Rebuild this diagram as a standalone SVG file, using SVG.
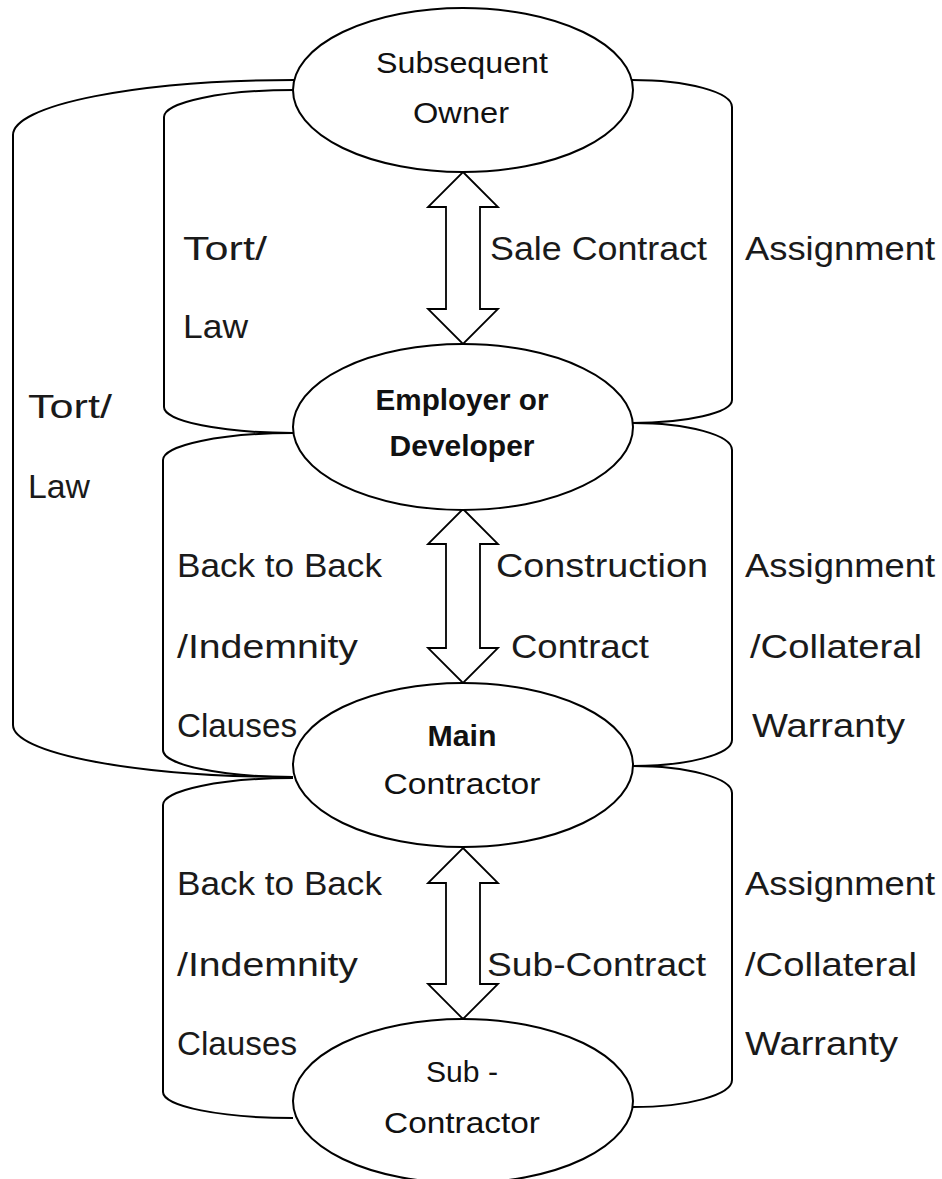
<svg xmlns="http://www.w3.org/2000/svg" width="942" height="1179" viewBox="0 0 942 1179">
<style>
.ln{fill:none;stroke:#000;stroke-width:2}
.el{fill:#fff;stroke:#000;stroke-width:2}
.ar{fill:#fff;stroke:#000;stroke-width:1.8;stroke-linejoin:miter}
.lb{font-family:"Liberation Sans",Arial,sans-serif;font-size:34px;fill:#1a1a1a}
.nt{font-family:"Liberation Sans",Arial,sans-serif;font-size:29px;fill:#111;text-anchor:middle}
.b{font-weight:bold}
</style>
<rect width="942" height="1179" fill="#fff"/>
<g id="connectors">
<path class="ln" d="M294,80 A281,55 0 0 0 13,135 V725 A280,52 0 0 0 293,777"/>
<path class="ln" d="M294,90 A130,27 0 0 0 164,117 V407 A130,26 0 0 0 293,433"/>
<path class="ln" d="M632,80 A100,27 0 0 1 732,107 V400 A100,23 0 0 1 632,423"/>
<path class="ln" d="M293,433 A130,27 0 0 0 163,460 V750 A130,27 0 0 0 293,777"/>
<path class="ln" d="M633,423 A99,27 0 0 1 732,450 V740 A99,26 0 0 1 633,766"/>
<path class="ln" d="M293,778 A130,27 0 0 0 163,805 V1092 A130,26 0 0 0 293,1118"/>
<path class="ln" d="M633,766 A99,27 0 0 1 732,793 V1080 A99,27 0 0 1 633,1107"/>
<polygon class="ar" points="463,172 498,207 480,207 480,309 498,309 463,344 428,309 446,309 446,207 428,207"/>
<polygon class="ar" points="463,509 498,544 480,544 480,648 498,648 463,683 428,648 446,648 446,544 428,544"/>
<polygon class="ar" points="463,848 498,883 480,883 480,984 498,984 463,1019 428,984 446,984 446,883 428,883"/>
</g>
<g id="labels">
<text class="lb" x="183" y="260" textLength="84" lengthAdjust="spacingAndGlyphs">Tort/</text>
<text class="lb" x="183" y="338" textLength="65" lengthAdjust="spacingAndGlyphs">Law</text>
<text class="lb" x="490" y="260" textLength="217" lengthAdjust="spacingAndGlyphs">Sale Contract</text>
<text class="lb" x="745" y="260" textLength="190" lengthAdjust="spacingAndGlyphs">Assignment</text>
<text class="lb" x="28" y="418" textLength="84" lengthAdjust="spacingAndGlyphs">Tort/</text>
<text class="lb" x="28" y="498" textLength="62" lengthAdjust="spacingAndGlyphs">Law</text>
<text class="lb" x="177" y="577" textLength="205" lengthAdjust="spacingAndGlyphs">Back to Back</text>
<text class="lb" x="177" y="658" textLength="181" lengthAdjust="spacingAndGlyphs">/Indemnity</text>
<text class="lb" x="177" y="737" textLength="120" lengthAdjust="spacingAndGlyphs">Clauses</text>
<text class="lb" x="496" y="577" textLength="212" lengthAdjust="spacingAndGlyphs">Construction</text>
<text class="lb" x="511" y="658" textLength="138" lengthAdjust="spacingAndGlyphs">Contract</text>
<text class="lb" x="745" y="577" textLength="190" lengthAdjust="spacingAndGlyphs">Assignment</text>
<text class="lb" x="750" y="658" textLength="172" lengthAdjust="spacingAndGlyphs">/Collateral</text>
<text class="lb" x="752" y="737" textLength="153" lengthAdjust="spacingAndGlyphs">Warranty</text>
<text class="lb" x="177" y="895" textLength="205" lengthAdjust="spacingAndGlyphs">Back to Back</text>
<text class="lb" x="177" y="976" textLength="181" lengthAdjust="spacingAndGlyphs">/Indemnity</text>
<text class="lb" x="177" y="1055" textLength="120" lengthAdjust="spacingAndGlyphs">Clauses</text>
<text class="lb" x="487" y="976" textLength="219" lengthAdjust="spacingAndGlyphs">Sub-Contract</text>
<text class="lb" x="745" y="895" textLength="190" lengthAdjust="spacingAndGlyphs">Assignment</text>
<text class="lb" x="745" y="976" textLength="172" lengthAdjust="spacingAndGlyphs">/Collateral</text>
<text class="lb" x="745" y="1055" textLength="153" lengthAdjust="spacingAndGlyphs">Warranty</text>
</g>
<g id="subsequent-owner">
<ellipse class="el" cx="463" cy="90" rx="170" ry="82"/>
<text class="nt" x="462" y="73" textLength="172" lengthAdjust="spacingAndGlyphs">Subsequent</text>
<text class="nt" x="461" y="123" textLength="96" lengthAdjust="spacingAndGlyphs">Owner</text>
</g>
<g id="employer">
<ellipse class="el" cx="463" cy="427" rx="170" ry="83"/>
<text class="nt b" x="462" y="410" textLength="173" lengthAdjust="spacingAndGlyphs">Employer or</text>
<text class="nt b" x="462" y="456" textLength="145" lengthAdjust="spacingAndGlyphs">Developer</text>
</g>
<g id="main-contractor">
<ellipse class="el" cx="463" cy="765" rx="170" ry="82"/>
<text class="nt b" x="462" y="746" textLength="69" lengthAdjust="spacingAndGlyphs">Main</text>
<text class="nt" x="462" y="794" textLength="157" lengthAdjust="spacingAndGlyphs">Contractor</text>
</g>
<g id="sub-contractor">
<ellipse class="el" cx="463" cy="1101" rx="170" ry="82"/>
<text class="nt" x="462" y="1082" textLength="72" lengthAdjust="spacingAndGlyphs">Sub -</text>
<text class="nt" x="462" y="1133" textLength="156" lengthAdjust="spacingAndGlyphs">Contractor</text>
</g>
</svg>
